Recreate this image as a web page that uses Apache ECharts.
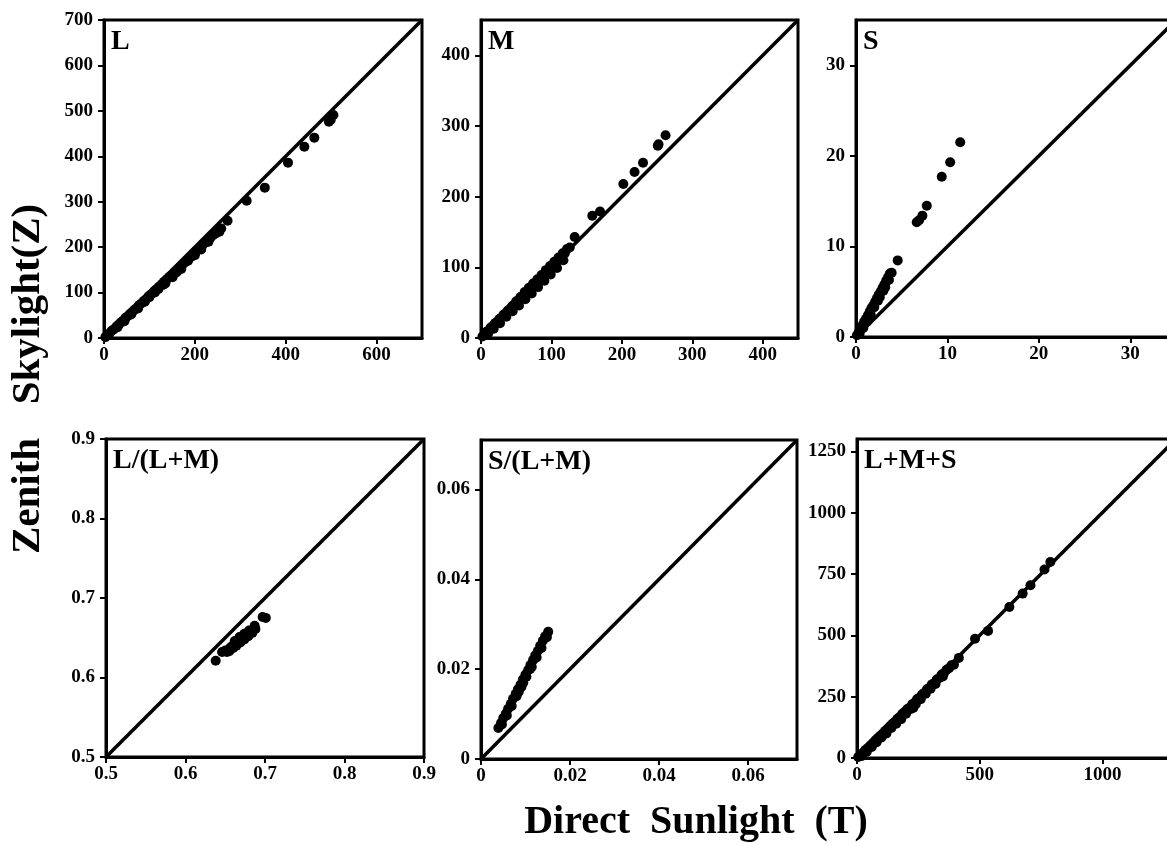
<!DOCTYPE html>
<html>
<head>
<meta charset="utf-8">
<script src="https://cdn.jsdelivr.net/npm/echarts@6/dist/echarts.min.js"></script>
<style>
  html, body { margin: 0; padding: 0; background: #fff; }
  #chart { width: 1167px; height: 844px; }
</style>
</head>
<body>
<div id="chart"></div>
<script>
// panel names, axis ranges and tick steps
var panelNames = ['L', 'M', 'S', 'L/(L+M)', 'S/(L+M)', 'L+M+S'];
var axisMin = [0, 0, 0, 0.5, 0, 0];
var axisMax = [700, 450, 35, 0.9, 0.071, 1300];
var xStep = [200, 100, 10, 0.1, 0.02, 500];
var yStep = [100, 100, 10, 0.1, 0.02, 250];

// direct sunlight (x) vs zenith skylight (y)
var lPts = [
  [3,2],[8,7],[12,10],[16,15],[20,18],[24,21],[28,26],[30,24],[33,30],[38,35],[42,38],
  [45,37],[47,44],[52,48],[57,53],[60,52],[62,57],[67,62],[72,66],[75,65],[77,72],
  [82,76],[88,82],[90,80],[93,86],[98,92],[100,90],[104,97],[110,103],[112,100],
  [115,107],[120,108],[121,113],[127,118],[130,117],[132,124],[135,120],[138,129],
  [144,135],[150,139],[151,134],[156,146],[160,145],[162,151],[168,156],[170,152],
  [174,163],[180,168],[185,170],[186,174],[192,179],[195,184],[198,186],[200,182],
  [204,192],[210,198],[214,195],[216,203],[222,209],[228,214],[230,212],[234,220],
  [240,226],[246,230],[250,237],[254,234],[258,241],[272,258],[314,302],[354,331],
  [405,386],[441,421],[463,441],[495,476],[499,480],[505,491]
];
var mPts = [
  [2,2],[5,5],[8,9],[10,6],[11,11],[14,15],[17,17],[18,13],[20,21],[23,23],
  [26,27],[27,21],[29,29],[32,33],[35,35],[36,30],[38,39],[41,41],[44,45],[45,38],
  [47,47],[50,52],[53,53],[54,46],[56,58],[59,59],[62,65],[63,55],[65,64],[68,71],
  [71,70],[72,63],[74,77],[77,76],[80,83],[81,72],[83,82],[86,89],[89,88],[90,81],
  [92,96],[95,94],[98,102],[99,90],[101,100],[104,108],[107,107],[108,99],[110,114],
  [113,113],[116,120],[117,110],[119,120],[122,126],[126,128],[133,143],[158,173],
  [169,179],[202,218],[218,235],[230,248],[251,272],[252,274],[262,287]
];
var sPts = [
  [0.1,0.2],[0.3,0.5],[0.4,0.4],[0.5,0.9],[0.7,1.3],[0.8,1.0],[0.9,1.7],[1.1,2.0],
  [1.2,1.7],[1.3,2.4],[1.4,2.3],[1.5,2.8],[1.6,2.5],[1.7,3.2],[1.9,3.5],[2.0,3.3],
  [2.1,3.9],[2.3,4.3],[2.4,4.0],[2.5,4.7],[2.6,4.4],[2.7,5.0],[2.9,5.4],[3.0,5.1],
  [3.1,5.8],[3.2,5.5],[3.3,6.2],[3.5,6.6],[3.6,6.3],[3.7,7.0],[3.9,7.1],
  [4.56,8.46],[6.64,12.67],[6.9,12.9],[7.26,13.4],[7.74,14.5],[9.38,17.7],
  [10.3,19.3],[11.4,21.5]
];
var lRatioPts = [
  [0.638,0.621],[0.646,0.632],[0.650,0.634],[0.652,0.632],[0.655,0.633],[0.656,0.637],
  [0.658,0.639],[0.660,0.637],[0.661,0.641],[0.662,0.646],[0.663,0.643],[0.664,0.640],
  [0.666,0.645],[0.668,0.647],[0.668,0.651],[0.669,0.644],[0.671,0.649],[0.673,0.651],
  [0.674,0.648],[0.674,0.655],[0.676,0.653],[0.678,0.655],[0.679,0.652],[0.680,0.659],
  [0.681,0.657],[0.683,0.659],[0.684,0.656],[0.686,0.662],[0.687,0.665],[0.688,0.661],
  [0.697,0.676],[0.701,0.675]
];
var sRatioPts = [
  [0.0039,0.0069],[0.0045,0.0080],[0.0047,0.0077],[0.0050,0.0091],[0.0056,0.0101],
  [0.0058,0.0097],[0.0061,0.0112],[0.0067,0.0123],[0.0069,0.0118],[0.0072,0.0134],
  [0.0078,0.0145],[0.0080,0.0140],[0.0083,0.0155],[0.0085,0.0150],[0.0089,0.0166],
  [0.0091,0.0161],[0.0094,0.0177],[0.0095,0.0170],[0.0100,0.0188],[0.0102,0.0183],
  [0.0106,0.0198],[0.0110,0.0200],[0.0111,0.0209],[0.0114,0.0205],[0.0117,0.0220],
  [0.0122,0.0231],[0.0125,0.0226],[0.0128,0.0241],[0.0133,0.0252],[0.0136,0.0247],
  [0.0139,0.0263],[0.0144,0.0273],[0.0148,0.0271],[0.0151,0.0283]
];
var lumPts = [
  [5,4],[15,13],[20,8],[25,22],[35,33],[40,26],[45,42],[55,52],[60,45],[65,61],
  [75,72],[80,64],[85,81],[95,91],[100,84],[105,100],[115,111],[120,100],[125,120],
  [135,130],[140,122],[145,140],[155,149],[160,140],[165,160],[175,168],[180,158],
  [185,180],[195,188],[200,180],[205,200],[215,206],[220,200],[225,219],[230,205],
  [235,226],[240,220],[245,240],[255,246],[260,240],[265,259],[275,266],[280,262],
  [285,280],[295,286],[300,282],[305,300],[315,306],[320,302],[325,320],[335,326],
  [345,340],[350,332],[355,346],[365,360],[375,366],[385,378],[395,380],[415,408],
  [481,486],[534,518],[621,615],[675,670],[707,704],[764,768],[788,799]
];
var allPts = [lPts, mPts, sPts, lRatioPts, sRatioPts, lumPts];

// grid boxes in pixels
var boxes = [
  {left: 104, top: 20, width: 318, height: 318},
  {left: 481, top: 20, width: 317, height: 318},
  {left: 856, top: 20, width: 320, height: 317},
  {left: 106, top: 439, width: 318, height: 318},
  {left: 481, top: 440, width: 316, height: 319},
  {left: 857, top: 439, width: 319, height: 319}
];

var FONT = '"Liberation Serif", "DejaVu Serif", serif';
var chart = echarts.init(document.getElementById('chart'), null, {renderer: 'canvas'});

var grids = [], xAxes = [], yAxes = [], series = [], graphics = [];

function tickText(v) {
  return String(+(+v).toFixed(4));
}

function axisCfg(i, step, isX) {
  var span = axisMax[i] - axisMin[i];
  var maxIsTick = Math.abs(Math.round(span / step) * step - span) < 1e-9;
  return {
    type: 'value',
    gridIndex: i,
    min: axisMin[i],
    max: axisMax[i],
    interval: step,
    splitLine: {show: false},
    axisLine: {show: true, onZero: false, lineStyle: {color: '#000', width: 3}},
    axisTick: {show: true, inside: false, length: 6, lineStyle: {color: '#000', width: 2}},
    axisLabel: {
      show: true,
      color: '#000',
      fontFamily: FONT,
      fontWeight: 'bold',
      fontSize: 19,
      margin: isX ? 8 : 11,
      formatter: tickText,
      showMaxLabel: maxIsTick,
      showMinLabel: true,
      hideOverlap: false
    }
  };
}

for (var i = 0; i < 6; i++) {
  var b = boxes[i];
  grids.push({
    left: b.left, top: b.top, width: b.width, height: b.height,
    show: true, borderColor: '#000', borderWidth: 3, backgroundColor: 'transparent',
    containLabel: false, outerBoundsMode: 'none'
  });
  xAxes.push(axisCfg(i, xStep[i], true));
  yAxes.push(axisCfg(i, yStep[i], false));
  series.push({
    type: 'line',
    xAxisIndex: i, yAxisIndex: i,
    data: [[axisMin[i], axisMin[i]], [axisMax[i], axisMax[i]]],
    showSymbol: false, symbol: 'none',
    lineStyle: {color: '#000', width: 3.5},
    silent: true, z: 2
  });
  series.push({
    type: 'scatter',
    xAxisIndex: i, yAxisIndex: i,
    data: allPts[i],
    symbol: 'circle', symbolSize: 10,
    itemStyle: {color: '#000', opacity: 1},
    z: 3
  });
  graphics.push({
    type: 'text',
    left: b.left + 7,
    top: b.top + 8,
    style: {text: panelNames[i], fill: '#000', font: 'bold 28px ' + FONT}
  });
}

// shared axis titles
graphics.push({
  type: 'text', x: 28, y: 304, rotation: Math.PI / 2,
  style: {text: 'Skylight(Z)', fill: '#000', font: 'bold 41px ' + FONT, align: 'center', verticalAlign: 'middle'}
});
graphics.push({
  type: 'text', x: 28, y: 496, rotation: Math.PI / 2,
  style: {text: 'Zenith', fill: '#000', font: 'bold 41px ' + FONT, align: 'center', verticalAlign: 'middle'}
});
graphics.push({
  type: 'text', x: 696, y: 823,
  style: {text: 'Direct  Sunlight  (T)', fill: '#000', font: 'bold 40px ' + FONT, align: 'center', verticalAlign: 'middle'}
});

chart.setOption({
  animation: false,
  backgroundColor: '#fff',
  grid: grids,
  xAxis: xAxes,
  yAxis: yAxes,
  series: series,
  graphic: graphics
});
</script>
</body>
</html>
